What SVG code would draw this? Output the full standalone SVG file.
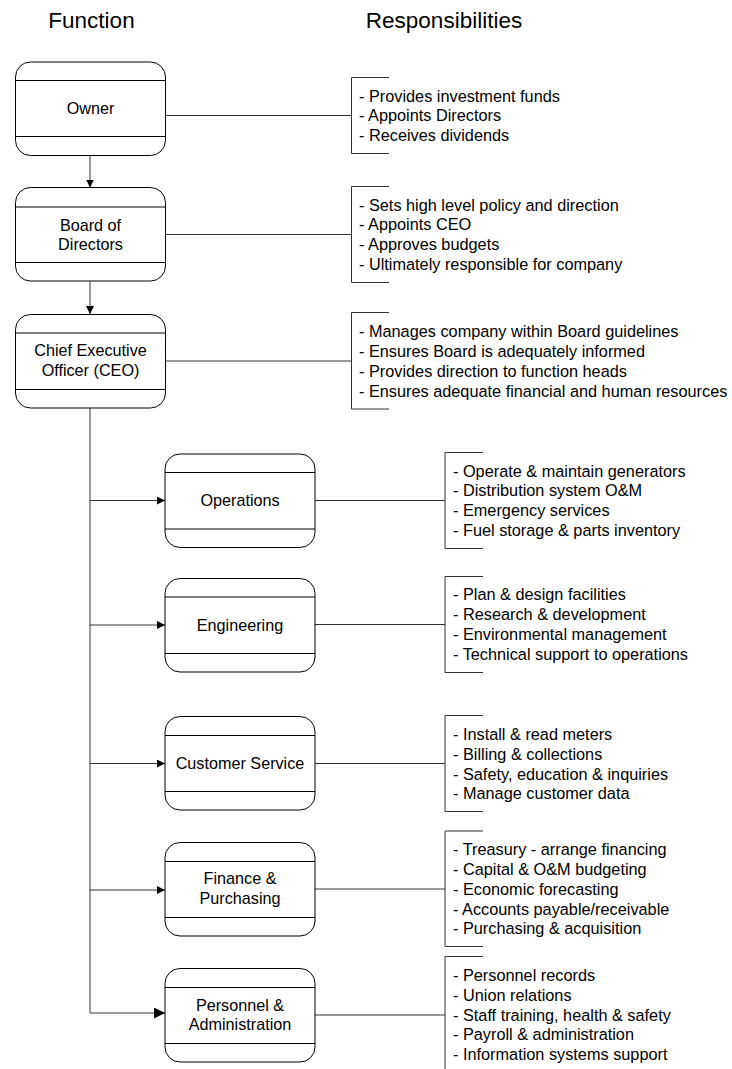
<svg xmlns="http://www.w3.org/2000/svg" width="732" height="1069" viewBox="0 0 732 1069">
  <style>
    .box { fill: #ffffff; stroke: #000000; stroke-width: 1; }
    .band { stroke: #000000; stroke-width: 1; }
    .label { font-family: "Liberation Sans", Arial, sans-serif; font-size: 16.2px; fill: #000000; text-anchor: middle; }
    .title { font-family: "Liberation Sans", Arial, sans-serif; font-size: 22.5px; fill: #000000; text-anchor: middle; }
    .resp { font-family: "Liberation Sans", Arial, sans-serif; font-size: 16.3px; fill: #000000; }
    .link { fill: none; stroke: #333333; stroke-width: 1; }
    .bracket { fill: none; stroke: #333333; stroke-width: 1; }
  </style>
  <defs>
    <marker id="arrow" markerUnits="userSpaceOnUse" markerWidth="9" markerHeight="8" refX="8" refY="4" orient="auto">
      <path d="M0,0 L8,4 L0,8 Z" fill="#000000"/>
    </marker>
    <marker id="arrow-lg" markerUnits="userSpaceOnUse" markerWidth="12" markerHeight="11" refX="11" refY="5.5" orient="auto">
      <path d="M0,0 L11,5.5 L0,11 Z" fill="#000000"/>
    </marker>
  </defs>

  <!-- column headings -->
  <text class="title" x="91.5" y="28">Function</text>
  <text class="title" x="444" y="28">Responsibilities</text>

  <!-- connectors -->
  <g id="connectors">
    <line class="link" x1="90" y1="155.5" x2="90" y2="187.5" marker-end="url(#arrow)"/>
    <line class="link" x1="90" y1="281.5" x2="90" y2="314" marker-end="url(#arrow)"/>
    <polyline class="link" points="90,408 90,1013 165,1013" marker-end="url(#arrow-lg)"/>
    <line class="link" x1="90" y1="500.5" x2="165" y2="500.5" marker-end="url(#arrow)"/>
    <line class="link" x1="90" y1="625" x2="165" y2="625" marker-end="url(#arrow)"/>
    <line class="link" x1="90" y1="763.5" x2="165" y2="763.5" marker-end="url(#arrow)"/>
    <line class="link" x1="90" y1="890" x2="165" y2="890" marker-end="url(#arrow)"/>

    <!-- node to responsibility bracket -->
    <line class="link" x1="165" y1="115.5" x2="351.5" y2="115.5"/>
    <line class="link" x1="165" y1="234.5" x2="351.5" y2="234.5"/>
    <line class="link" x1="165" y1="361" x2="351.5" y2="361"/>
    <line class="link" x1="315" y1="500.5" x2="445" y2="500.5"/>
    <line class="link" x1="315" y1="624.5" x2="445" y2="624.5"/>
    <line class="link" x1="315" y1="763.5" x2="445" y2="763.5"/>
    <line class="link" x1="315" y1="889" x2="445" y2="889"/>
    <line class="link" x1="315" y1="1015" x2="445" y2="1015"/>
  </g>

  <!-- function nodes -->
  <g id="owner">
    <rect class="box" x="15.5" y="62" width="150" height="93.5" rx="15"/>
    <line class="band" x1="15.5" y1="80.5" x2="165.5" y2="80.5"/>
    <line class="band" x1="15.5" y1="136.5" x2="165.5" y2="136.5"/>
    <text class="label" x="90.5" y="114">Owner</text>
  </g>
  <g id="board">
    <rect class="box" x="15.5" y="187.5" width="150" height="93.5" rx="15"/>
    <line class="band" x1="15.5" y1="207" x2="165.5" y2="207"/>
    <line class="band" x1="15.5" y1="262.5" x2="165.5" y2="262.5"/>
    <text class="label" x="90.5" y="231">Board of</text>
    <text class="label" x="90.5" y="250">Directors</text>
  </g>
  <g id="ceo">
    <rect class="box" x="15.5" y="314.5" width="150" height="93.5" rx="15"/>
    <line class="band" x1="15.5" y1="333" x2="165.5" y2="333"/>
    <line class="band" x1="15.5" y1="389.5" x2="165.5" y2="389.5"/>
    <text class="label" x="90.5" y="356">Chief Executive</text>
    <text class="label" x="90.5" y="375.5">Officer (CEO)</text>
  </g>
  <g id="operations">
    <rect class="box" x="165" y="454" width="150" height="93.5" rx="15"/>
    <line class="band" x1="165" y1="472.5" x2="315" y2="472.5"/>
    <line class="band" x1="165" y1="529" x2="315" y2="529"/>
    <text class="label" x="240" y="506">Operations</text>
  </g>
  <g id="engineering">
    <rect class="box" x="165" y="578.5" width="150" height="93.5" rx="15"/>
    <line class="band" x1="165" y1="597" x2="315" y2="597"/>
    <line class="band" x1="165" y1="653.5" x2="315" y2="653.5"/>
    <text class="label" x="240" y="630.5">Engineering</text>
  </g>
  <g id="customer-service">
    <rect class="box" x="165" y="716.5" width="150" height="93.5" rx="15"/>
    <line class="band" x1="165" y1="735.5" x2="315" y2="735.5"/>
    <line class="band" x1="165" y1="791.5" x2="315" y2="791.5"/>
    <text class="label" x="240" y="769">Customer Service</text>
  </g>
  <g id="finance">
    <rect class="box" x="165" y="842.5" width="150" height="93.5" rx="15"/>
    <line class="band" x1="165" y1="861.5" x2="315" y2="861.5"/>
    <line class="band" x1="165" y1="917.5" x2="315" y2="917.5"/>
    <text class="label" x="240" y="884">Finance &amp;</text>
    <text class="label" x="240" y="904">Purchasing</text>
  </g>
  <g id="personnel">
    <rect class="box" x="165" y="968.5" width="150" height="93.5" rx="15"/>
    <line class="band" x1="165" y1="987.5" x2="315" y2="987.5"/>
    <line class="band" x1="165" y1="1043.5" x2="315" y2="1043.5"/>
    <text class="label" x="240" y="1010.5">Personnel &amp;</text>
    <text class="label" x="240" y="1029.5">Administration</text>
  </g>

  <!-- responsibility lists -->
  <g id="owner-duties">
    <path class="bracket" d="M389,77.5 H351.5 V153.5 H389"/>
    <text class="resp" x="359" y="101.5">- Provides investment funds</text>
    <text class="resp" x="359" y="121">- Appoints Directors</text>
    <text class="resp" x="359" y="140.5">- Receives dividends</text>
  </g>
  <g id="board-duties">
    <path class="bracket" d="M389,186.5 H351.5 V282.5 H389"/>
    <text class="resp" x="359" y="210.5">- Sets high level policy and direction</text>
    <text class="resp" x="359" y="230">- Appoints CEO</text>
    <text class="resp" x="359" y="249.5">- Approves budgets</text>
    <text class="resp" x="359" y="269.5">- Ultimately responsible for company</text>
  </g>
  <g id="ceo-duties">
    <path class="bracket" d="M389,312.5 H351.5 V409 H389"/>
    <text class="resp" x="359" y="336.5">- Manages company within Board guidelines</text>
    <text class="resp" x="359" y="356.5">- Ensures Board is adequately informed</text>
    <text class="resp" x="359" y="376.5">- Provides direction to function heads</text>
    <text class="resp" x="359" y="396.5">- Ensures adequate financial and human resources</text>
  </g>
  <g id="operations-duties">
    <path class="bracket" d="M483,452.5 H445 V548.5 H483"/>
    <text class="resp" x="453" y="476.5">- Operate &amp; maintain generators</text>
    <text class="resp" x="453" y="496">- Distribution system O&amp;M</text>
    <text class="resp" x="453" y="516">- Emergency services</text>
    <text class="resp" x="453" y="535.5">- Fuel storage &amp; parts inventory</text>
  </g>
  <g id="engineering-duties">
    <path class="bracket" d="M483,576.5 H445 V672.5 H483"/>
    <text class="resp" x="453" y="600">- Plan &amp; design facilities</text>
    <text class="resp" x="453" y="620">- Research &amp; development</text>
    <text class="resp" x="453" y="640">- Environmental management</text>
    <text class="resp" x="453" y="660">- Technical support to operations</text>
  </g>
  <g id="customer-service-duties">
    <path class="bracket" d="M483,715.5 H445 V811.5 H483"/>
    <text class="resp" x="453" y="740">- Install &amp; read meters</text>
    <text class="resp" x="453" y="760">- Billing &amp; collections</text>
    <text class="resp" x="453" y="780">- Safety, education &amp; inquiries</text>
    <text class="resp" x="453" y="799">- Manage customer data</text>
  </g>
  <g id="finance-duties">
    <path class="bracket" d="M483,831 H445 V946.5 H483"/>
    <text class="resp" x="453" y="855">- Treasury - arrange financing</text>
    <text class="resp" x="453" y="875">- Capital &amp; O&amp;M budgeting</text>
    <text class="resp" x="453" y="894.5">- Economic forecasting</text>
    <text class="resp" x="453" y="914.5">- Accounts payable/receivable</text>
    <text class="resp" x="453" y="934">- Purchasing &amp; acquisition</text>
  </g>
  <g id="personnel-duties">
    <path class="bracket" d="M483,956.5 H445 V1074 H483"/>
    <text class="resp" x="453" y="981">- Personnel records</text>
    <text class="resp" x="453" y="1000.5">- Union relations</text>
    <text class="resp" x="453" y="1020.5">- Staff training, health &amp; safety</text>
    <text class="resp" x="453" y="1040">- Payroll &amp; administration</text>
    <text class="resp" x="453" y="1059.5">- Information systems support</text>
  </g>
</svg>
